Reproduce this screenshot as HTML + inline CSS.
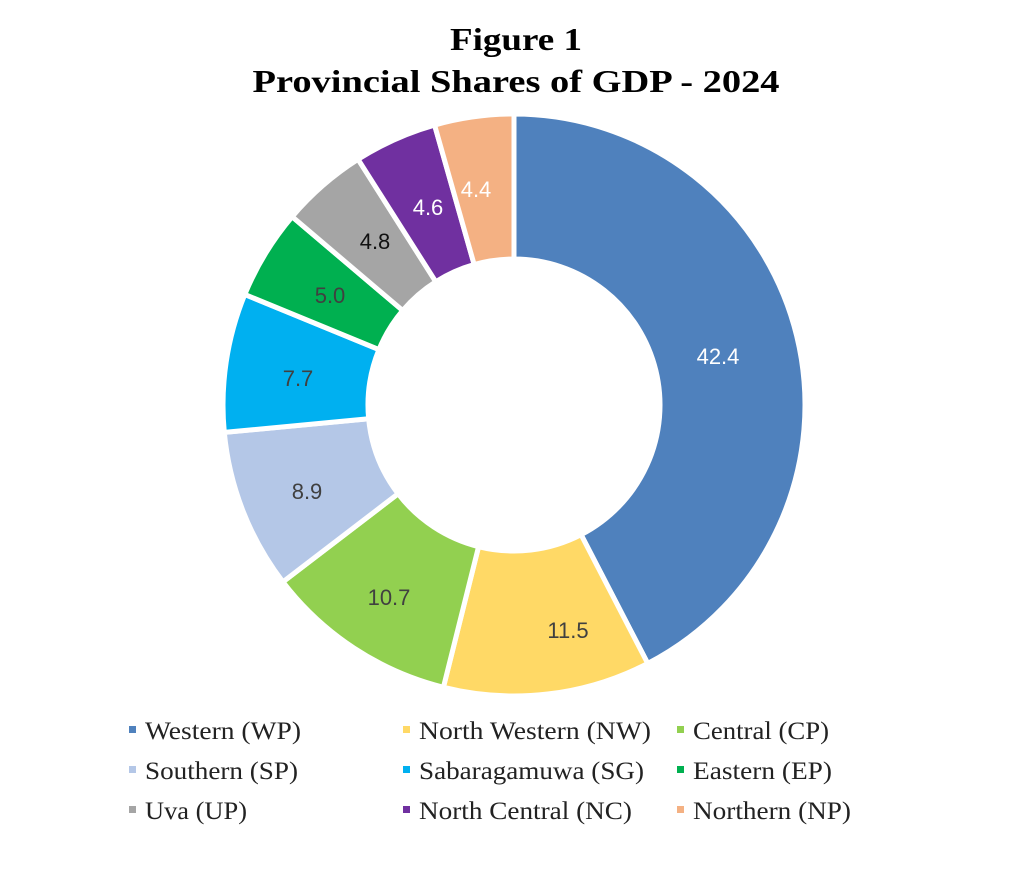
<!DOCTYPE html>
<html><head><meta charset="utf-8"><style>
html,body{margin:0;padding:0;background:#fff;}
svg{display:block;}
</style></head><body>
<svg id="s" width="1024" height="869" viewBox="0 0 1024 869" xmlns="http://www.w3.org/2000/svg">
<rect width="1024" height="869" fill="#fff"/>
<g id="pie"></g>
<g font-family="'Liberation Serif',serif" font-weight="bold" font-size="32" text-anchor="middle" fill="#000">
<text x="516" y="50" textLength="132" lengthAdjust="spacingAndGlyphs">Figure 1</text>
<text x="516" y="92" textLength="527" lengthAdjust="spacingAndGlyphs">Provincial Shares of GDP - 2024</text>
</g>
<g font-family="'Liberation Sans',sans-serif" font-size="22" text-anchor="middle" fill="#404040">
<text x="718" y="364" fill="#fff">42.4</text>
<text x="568" y="638">11.5</text>
<text x="389" y="605">10.7</text>
<text x="307" y="499">8.9</text>
<text x="298" y="386">7.7</text>
<text x="330" y="303">5.0</text>
<text x="375" y="249" fill="#111">4.8</text>
<text x="428" y="215" fill="#fff">4.6</text>
<text x="476" y="197" fill="#fff">4.4</text>
</g>
<g font-family="'Liberation Serif',serif" font-size="25" fill="#222">
<rect x="129" y="726" width="7" height="7" fill="#4f81bd"/><text x="145" y="739" textLength="156" lengthAdjust="spacingAndGlyphs">Western (WP)</text>
<rect x="403" y="726" width="7" height="7" fill="#ffd966"/><text x="419" y="739" textLength="232" lengthAdjust="spacingAndGlyphs">North Western (NW)</text>
<rect x="677" y="726" width="7" height="7" fill="#92d050"/><text x="693" y="739" textLength="136" lengthAdjust="spacingAndGlyphs">Central (CP)</text>
<rect x="129" y="766" width="7" height="7" fill="#b4c7e7"/><text x="145" y="779" textLength="153" lengthAdjust="spacingAndGlyphs">Southern (SP)</text>
<rect x="403" y="766" width="7" height="7" fill="#00b0f0"/><text x="419" y="779" textLength="225" lengthAdjust="spacingAndGlyphs">Sabaragamuwa (SG)</text>
<rect x="677" y="766" width="7" height="7" fill="#00b050"/><text x="693" y="779" textLength="139" lengthAdjust="spacingAndGlyphs">Eastern (EP)</text>
<rect x="129" y="806" width="7" height="7" fill="#a5a5a5"/><text x="145" y="819" textLength="102" lengthAdjust="spacingAndGlyphs">Uva (UP)</text>
<rect x="403" y="806" width="7" height="7" fill="#7030a0"/><text x="419" y="819" textLength="213" lengthAdjust="spacingAndGlyphs">North Central (NC)</text>
<rect x="677" y="806" width="7" height="7" fill="#f4b183"/><text x="693" y="819" textLength="158" lengthAdjust="spacingAndGlyphs">Northern (NP)</text>
</g>
</svg>
<script>
var d=[[42.4,"#4f81bd"],[11.5,"#ffd966"],[10.7,"#92d050"],[8.9,"#b4c7e7"],[7.7,"#00b0f0"],[5.0,"#00b050"],[4.8,"#a5a5a5"],[4.6,"#7030a0"],[4.4,"#f4b183"]];
var cx=514,cy=405,R=291,r=146,a=0,g=document.getElementById("pie"),h="";
function p(rad,ang){return [cx+rad*Math.sin(ang),cy-rad*Math.cos(ang)];}
d.forEach(function(s){var b=a+s[0]/100*2*Math.PI,l=(b-a)>Math.PI?1:0;
var p1=p(R,a),p2=p(R,b),p3=p(r,b),p4=p(r,a);
h+='<path d="M'+p1+' A'+R+','+R+' 0 '+l+' 1 '+p2+' L'+p3+' A'+r+','+r+' 0 '+l+' 0 '+p4+' Z" fill="'+s[1]+'" stroke="#fff" stroke-width="5" stroke-linejoin="miter"/>';
a=b;});
g.innerHTML=h;
</script>
</body></html>
